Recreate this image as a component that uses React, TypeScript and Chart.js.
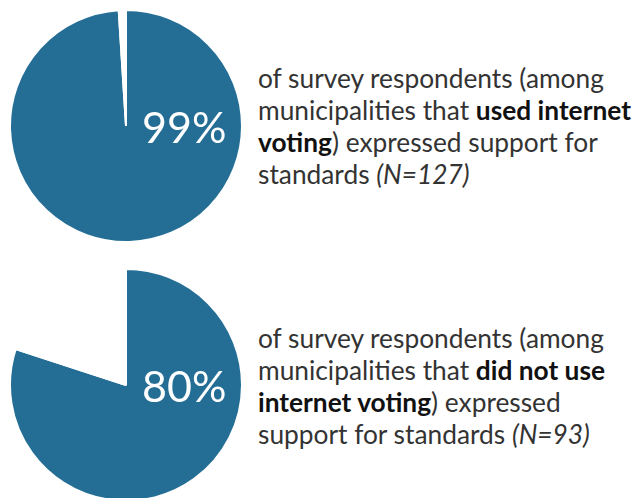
import React, { useEffect, useRef } from "react";
import { Chart, registerables } from "chart.js";

Chart.register(...registerables);

const pieLabels = ["Support", "Other"];
const usedValues = [99, 1];
const notUsedValues = [80, 20];
const percentLabels = ["99%", "80%"];
const sliceColors = ["#246e96", "#ffffff"];

const centerTextPlugin = (text: string) => ({
  id: "centerText",
  afterDraw(chart: any) {
    const meta = chart.getDatasetMeta(0);
    const arc = meta.data[0];
    if (!arc) return;
    const { x, y } = arc;
    const ctx = chart.ctx;
    ctx.save();
    ctx.fillStyle = "#ffffff";
    ctx.font = "400 43px Lato";
    ctx.textAlign = "left";
    ctx.textBaseline = "alphabetic";
    ctx.fillText(text, x + 16, y + 17);
    ctx.restore();
  },
});

function Pie({ values, label, style }: { values: number[]; label: string; style: React.CSSProperties }) {
  const ref = useRef<HTMLCanvasElement>(null);
  useEffect(() => {
    if (!ref.current) return;
    const chart = new Chart(ref.current, {
      type: "pie",
      data: {
        labels: pieLabels,
        datasets: [
          {
            data: values,
            backgroundColor: sliceColors,
            borderColor: "#ffffff",
            borderWidth: 2,
          },
        ],
      },
      options: {
        animation: false,
        responsive: false,
        events: [],
        layout: { padding: 0 },
        plugins: { legend: { display: false }, tooltip: { enabled: false } },
      },
      plugins: [centerTextPlugin(label)],
    });
    return () => chart.destroy();
  }, [values, label]);
  return <canvas ref={ref} width={234} height={234} style={{ position: "absolute", width: 234, height: 234, ...style }} />;
}

const textStyle: React.CSSProperties = {
  position: "absolute",
  left: 258,
  fontFamily: "Lato, sans-serif",
  fontWeight: 400,
  fontSize: 26.3,
  lineHeight: "32px",
  color: "#333333",
  whiteSpace: "nowrap",
};
const boldStyle: React.CSSProperties = { fontWeight: 700, color: "#111111" };

export default function App() {
  return (
    <div
      style={{
        position: "absolute",
        left: 0,
        top: 0,
        width: 633,
        height: 498,
        overflow: "hidden",
        background: "#ffffff",
      }}
    >
      <Pie values={usedValues} label={percentLabels[0]} style={{ left: 9, top: 9 }} />
      <Pie values={notUsedValues} label={percentLabels[1]} style={{ left: 9, top: 268 }} />
      <div style={{ ...textStyle, top: 62 }}>
        of survey respondents (among
        <br />
        municipalities that <span style={boldStyle}>used internet</span>
        <br />
        <span style={boldStyle}>voting</span>) expressed support for
        <br />
        standards <i>(N=127)</i>
      </div>
      <div style={{ ...textStyle, top: 322 }}>
        of survey respondents (among
        <br />
        municipalities that <span style={boldStyle}>did not use</span>
        <br />
        <span style={boldStyle}>internet voting</span>) expressed
        <br />
        support for standards <i>(N=93)</i>
      </div>
    </div>
  );
}
